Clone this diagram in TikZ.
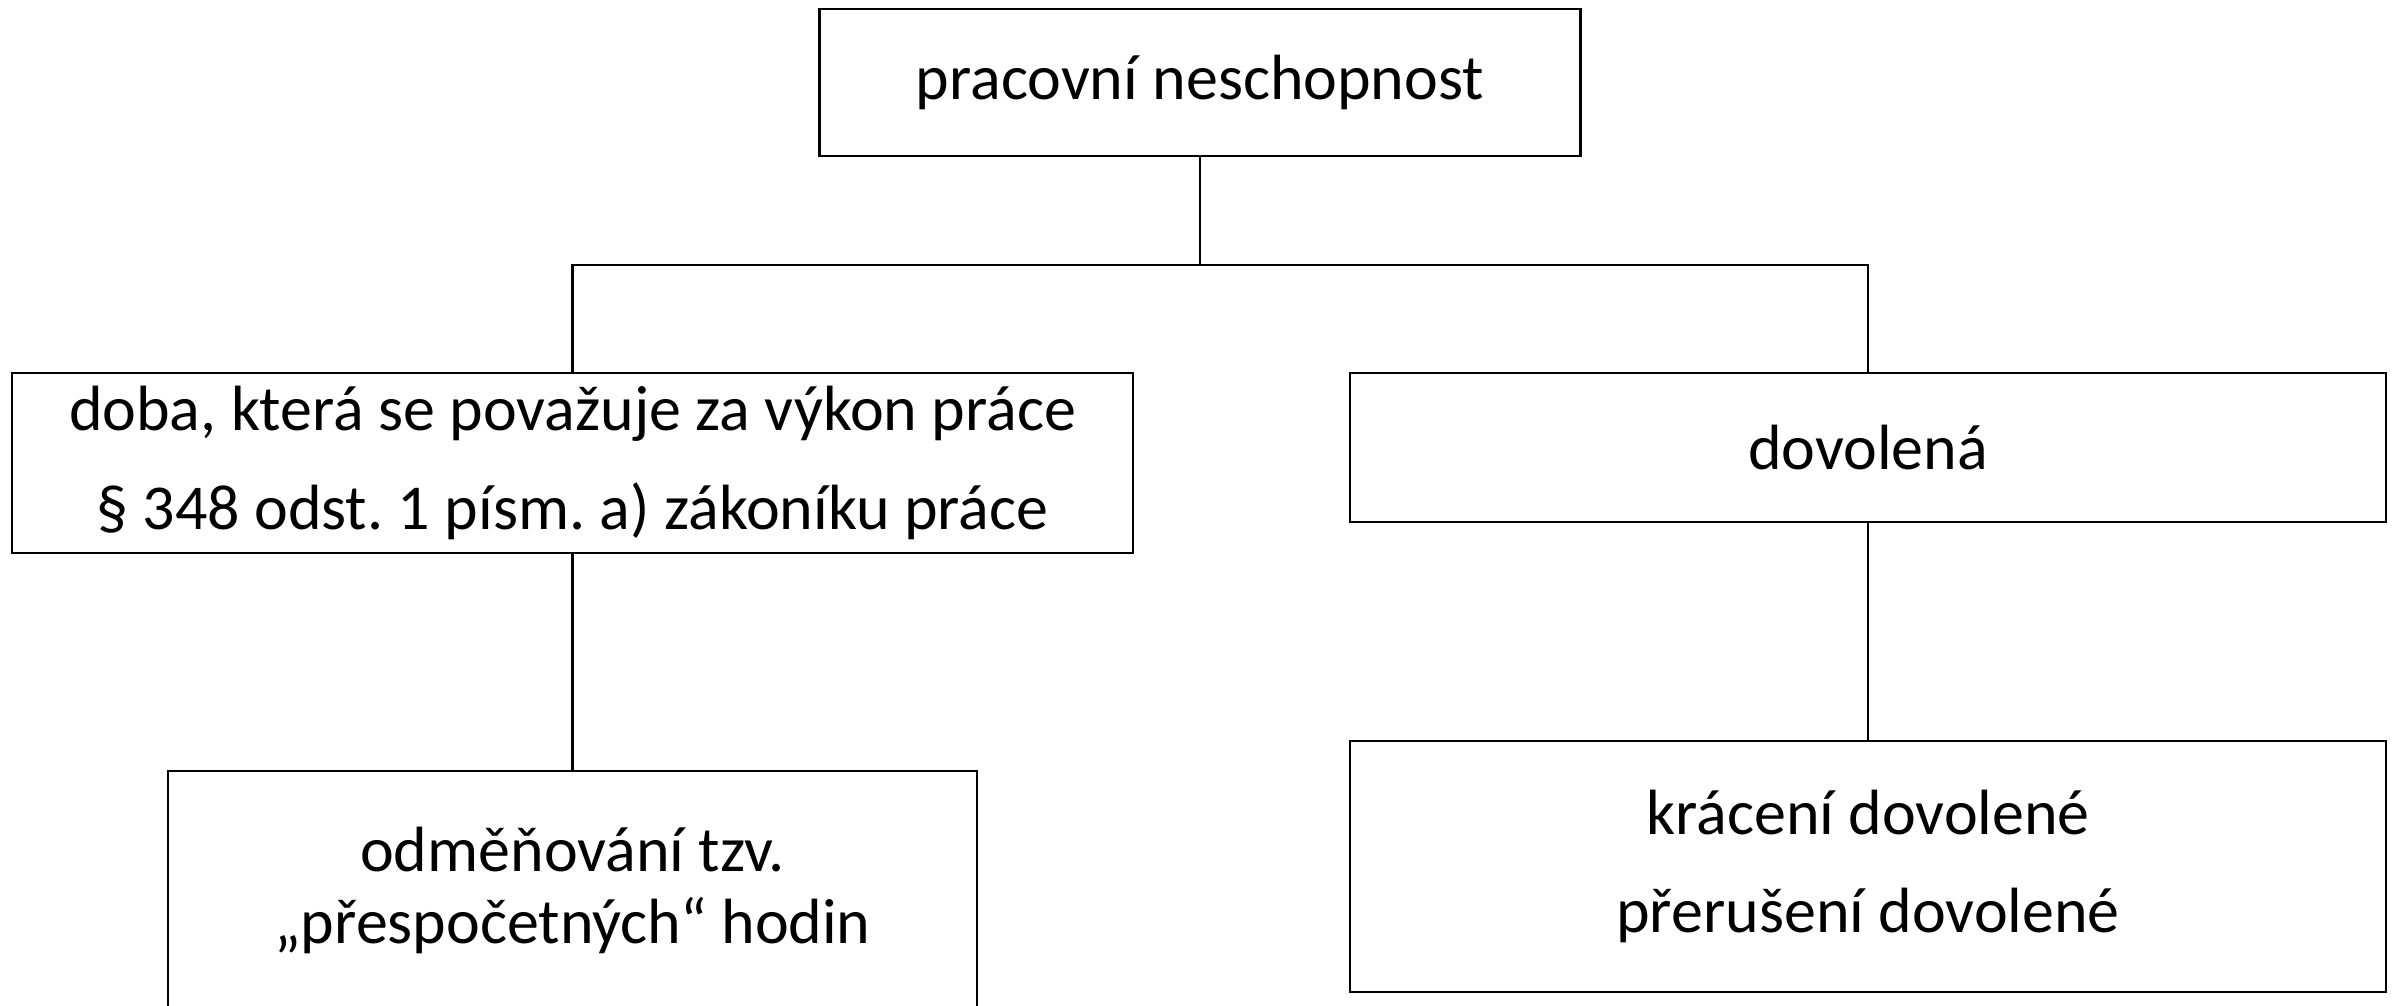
\documentclass[tikz,border=0pt]{standalone}
\usepackage{fontspec}
\setmainfont{Carlito}
\usepackage{tikz}
\usetikzlibrary{positioning}
\frenchspacing

\begin{document}
\begin{tikzpicture}[
  box/.style={draw, line width=0.8pt, align=center, inner sep=0pt,
    font=\fontsize{18.2}{28}\selectfont},
  tight/.style={font=\fontsize{18.2}{20.5}\selectfont},
  link/.style={line width=0.8pt}
]
\clip (0,0) rectangle (24,-10.05);
\node[box, minimum width=7.61cm, minimum height=1.47cm] (top) at (12.0,-0.825) {pracovní neschopnost};
\node[box, minimum width=11.21cm, minimum height=1.80cm] (doba) at (5.725,-4.63) {doba, která se považuje za výkon práce\\ § 348 odst. 1 písm. a) zákoníku práce};
\node[box, minimum width=10.36cm, minimum height=1.49cm] (dovolena) at (18.68,-4.475) {dovolená};
\node[box, tight, minimum width=8.09cm, minimum height=2.39cm] (odmena) at (5.725,-8.905) {odměňování tzv.\\ „přespočetných“ hodin};
\node[box, minimum width=10.36cm, minimum height=2.51cm] (kraceni) at (18.68,-8.665) {krácení dovolené\\ přerušení dovolené};
\coordinate (split) at (12.0,-2.65);
\draw[link] (top) -- (split);
\draw[link] (doba.north) |- (split) -| (dovolena.north);
\draw[link] (doba) -- (odmena);
\draw[link] (dovolena) -- (kraceni);
\end{tikzpicture}
\end{document}
